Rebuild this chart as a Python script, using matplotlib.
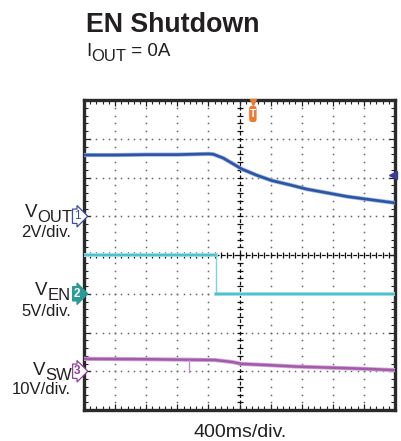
import numpy as np
import matplotlib
matplotlib.use("Agg")
import matplotlib.pyplot as plt
from matplotlib.transforms import blended_transform_factory
from matplotlib.patches import FancyBboxPatch

plt.rcParams['font.family'] = ['Liberation Sans', 'DejaVu Sans']

# ---- data (time and amplitude in scope divisions) ----
vout_t = [0.0, 1.0, 2.0, 3.0, 4.0, 4.16, 4.48, 4.80, 5.07, 5.55, 6.04, 6.62, 7.16, 7.91, 8.45, 9.09, 9.95, 10.0]
vout_v = [6.58, 6.58, 6.59, 6.59, 6.61, 6.60, 6.50, 6.35, 6.22, 6.06, 5.92, 5.81, 5.70, 5.59, 5.51, 5.44, 5.35, 5.34]

ven_t = [0.0, 4.23, 4.23, 10.0]
ven_v = [4.0, 4.0, 3.0, 3.0]

vsw_t = [0.0, 2.0, 4.2, 4.75, 5.07, 5.88, 6.84, 8.02, 9.09, 9.95, 10.0]
vsw_v = [1.32, 1.31, 1.29, 1.24, 1.19, 1.16, 1.12, 1.09, 1.06, 1.03, 1.03]
vsw_glitch_t = [3.38, 3.38]
vsw_glitch_v = [1.30, 0.98]

ch_ground = [5.0, 3.0, 1.0]
ch_names = ["1", "2", "3"]
trigger_t = 5.43
trigger_level = 6.06

W, H = 401, 441
fig = plt.figure(figsize=(W / 100, H / 100), dpi=100)
ax = fig.add_axes([84 / W, 1 - 410 / H, 311 / W, 310 / H])
ax.set_xlim(0, 10)
ax.set_ylim(0, 8)

# grid dots
gx, gy = [], []
for xv in range(1, 10):
    if xv == 5:
        continue
    ys = np.arange(0, 8.001, 0.2)
    gx += [xv] * len(ys); gy += list(ys)
for yv in range(1, 8):
    if yv == 4:
        continue
    xs = np.arange(0, 10.001, 0.2)
    gx += list(xs); gy += [yv] * len(xs)
ax.plot(gx, gy, ls='none', marker='s', ms=1.1, mew=0, color='#666666', zorder=1)

# center lines with cross ticks
ax.axvline(5, color='#111111', lw=0.9, ls=(0, (3, 2)), zorder=1)
ax.axhline(4, color='#111111', lw=0.9, ls=(0, (3, 2)), zorder=1)
cy = np.arange(0, 8.001, 0.2)
cx = np.arange(0, 10.001, 0.2)
ax.plot([5] * len(cy), cy, ls='none', marker='_', ms=5, mew=0.9, color='#111111', zorder=1)
ax.plot(cx, [4] * len(cx), ls='none', marker='|', ms=5, mew=0.9, color='#111111', zorder=1)

# frame ticks
ax.xaxis.set_minor_locator(matplotlib.ticker.MultipleLocator(0.2))
ax.yaxis.set_minor_locator(matplotlib.ticker.MultipleLocator(0.2))
ax.xaxis.set_major_locator(matplotlib.ticker.MultipleLocator(1))
ax.yaxis.set_major_locator(matplotlib.ticker.MultipleLocator(1))
ax.tick_params(which='both', direction='in', top=True, right=True, bottom=True, left=True,
               labelbottom=False, labelleft=False, color='#222222')
ax.tick_params(which='major', length=4, width=0.9)
ax.tick_params(which='minor', length=3, width=0.8)
for s in ax.spines.values():
    s.set_linewidth(2.4)
    s.set_color('#2a2a2a')

# traces
ax.plot(vout_t, vout_v, color='#9db2dc', lw=3.0, solid_capstyle='butt', zorder=3)
ax.plot(vout_t, vout_v, color='#2d55a5', lw=1.9, solid_capstyle='butt', zorder=4)

ax.plot(ven_t[:2], ven_v[:2], color='#a5e2e8', lw=2.8, zorder=3)
ax.plot(ven_t[:2], ven_v[:2], color='#4ec3cf', lw=1.6, zorder=4)
ax.plot(ven_t[1:3], ven_v[1:3], color='#7fd4dc', lw=1.0, zorder=4)
ax.plot(ven_t[2:], ven_v[2:], color='#a5e2e8', lw=2.8, zorder=3)
ax.plot(ven_t[2:], ven_v[2:], color='#4ec3cf', lw=1.6, zorder=4)

ax.plot(vsw_t, vsw_v, color='#d2a8d6', lw=3.0, zorder=3)
ax.plot(vsw_t, vsw_v, color='#a35aab', lw=1.8, zorder=4)
ax.plot(vsw_glitch_t, vsw_glitch_v, color='#c98ccf', lw=1.0, zorder=4)

# channel ground markers
bt = blended_transform_factory(ax.transAxes, ax.transData)
ax.text(-0.012, ch_ground[0], ch_names[0], transform=bt, ha='right', va='center', fontsize=8.5,
        color='#3b4fa0', bbox=dict(boxstyle='rarrow,pad=0.1', fc='white', ec='#3b4fa0', lw=0.9), zorder=6, clip_on=False)
ax.text(-0.012, ch_ground[1], ch_names[1], transform=bt, ha='right', va='center', fontsize=8.5,
        color='white', fontweight='bold', bbox=dict(boxstyle='rarrow,pad=0.1', fc='#2a9a98', ec='#2a9a98', lw=0.9), zorder=6, clip_on=False)
ax.text(-0.012, ch_ground[2], ch_names[2], transform=bt, ha='right', va='center', fontsize=8.5,
        color='#8e3f9a', fontweight='bold', bbox=dict(boxstyle='rarrow,pad=0.1', fc='white', ec='#8e3f9a', lw=0.9), zorder=6, clip_on=False)

# trigger markers
ax.plot(trigger_t, 7.95, marker='v', ms=5, color='#ee7a30', clip_on=False, zorder=6)
ax.add_patch(FancyBboxPatch((trigger_t - 0.1, 7.45), 0.2, 0.38, boxstyle='round,pad=0.02,rounding_size=0.08',
                            fc='#ee7a30', ec='none', zorder=6, mutation_aspect=1))
ax.text(trigger_t, 7.64, "T", ha='center', va='center', fontsize=7.5, color='white', fontweight='bold', zorder=7)
ax.plot(9.93, trigger_level, marker='<', ms=5.5, color='#3d3d99', clip_on=False, zorder=6)

# texts
def ftext(x, y, s, **kw):
    return fig.text(x / W, 1 - y / H, s, va='baseline', color='#231f20', **kw)

renderer = fig.canvas.get_renderer()

def sub_label(x_right, y_base, main, sub, size_main=13.5, size_sub=12, drop=5):
    t2 = ftext(x_right, y_base + drop, sub, fontsize=size_sub, ha='right')
    bb = t2.get_window_extent(renderer=renderer)
    ftext(bb.x0, y_base, main, fontsize=size_main, ha='right')

def sub_label_left(x_left, y_base, main, sub, rest, size_main=13.5, size_sub=12, drop=5):
    t1 = ftext(x_left, y_base, main, fontsize=size_main, ha='left')
    bb = t1.get_window_extent(renderer=renderer)
    t2 = ftext(bb.x1, y_base + drop, sub, fontsize=size_sub, ha='left')
    bb2 = t2.get_window_extent(renderer=renderer)
    ftext(bb2.x1, y_base, rest, fontsize=size_main, ha='left')

ftext(86, 32, "EN Shutdown", fontsize=19.3, fontweight='bold')
sub_label_left(86, 56, "I", "OUT", " = 0A", size_main=13.5, size_sub=12, drop=5)
sub_label(72, 217, "V", "OUT")
ftext(71, 237, "2V/div.", fontsize=12, ha='right')
sub_label(71, 295, "V", "EN")
ftext(71, 316, "5V/div.", fontsize=12, ha='right')
sub_label(72, 375, "V", "SW")
ftext(71, 394, "10V/div.", fontsize=12, ha='right')
fig.text(240 / W, 1 - 437 / H, "400ms/div.", ha='center', va='baseline', fontsize=14, color='#231f20')

fig.savefig("out.png", dpi=100)
